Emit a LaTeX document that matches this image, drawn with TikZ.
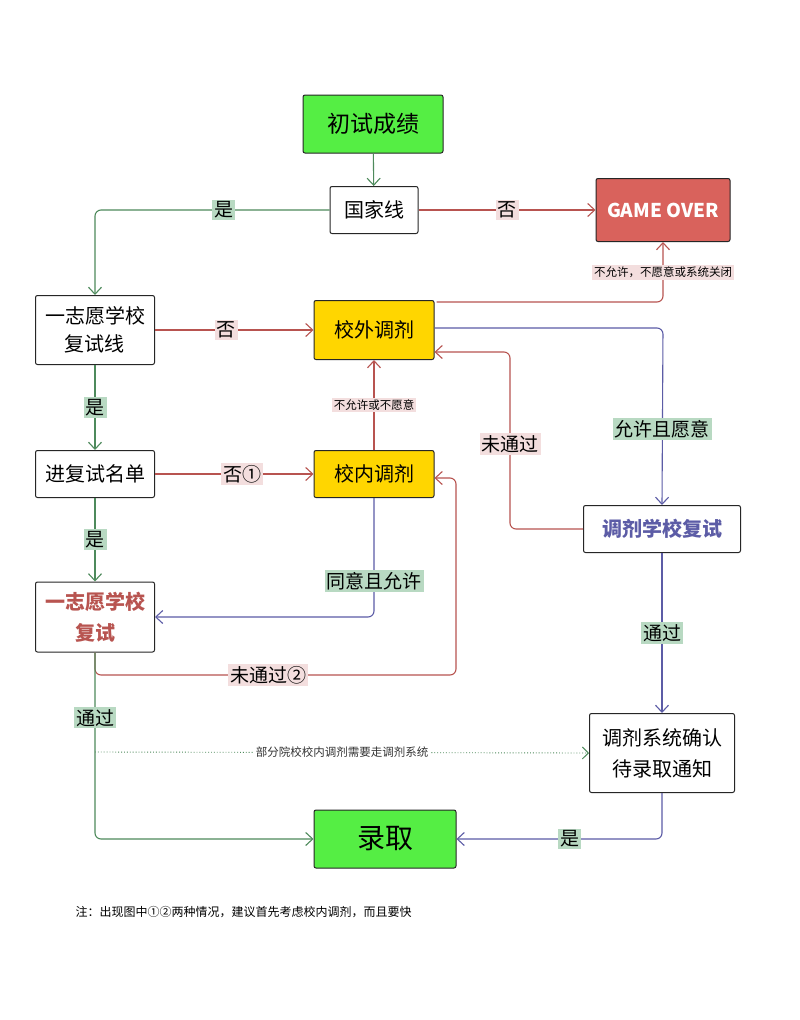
\documentclass[tikz,border=0pt]{standalone}
\usepackage{fontspec}
\setmainfont{Noto Sans CJK SC}
\usetikzlibrary{arrows.meta,positioning}
\definecolor{gline}{HTML}{4E8A5C}
\definecolor{rline}{HTML}{B85450}
\definecolor{bline}{HTML}{5C5CA6}
\definecolor{glab}{HTML}{B8D9C2}
\definecolor{rlab}{HTML}{F3DEDE}
\definecolor{bright}{HTML}{55EE44}
\definecolor{gameover}{HTML}{D9625C}
\definecolor{yel}{HTML}{FFD600}
\begin{document}
\begin{tikzpicture}[x=1pt,y=-1pt,
  box/.style={draw=black!85,line width=1pt,rounded corners=2pt,align=center,font=\fontsize{20}{28}\selectfont,inner sep=0pt},
  ln/.style={line width=1.1pt,rounded corners=6pt,-{Straight Barb[length=7pt,width=13pt]}},
  g/.style={ln,gline}, r/.style={ln,rline}, b/.style={ln,bline},
  lab/.style={sharp corners,text=black,font=\fontsize{19}{22}\selectfont,inner sep=2pt},
  gl/.style={lab,fill=glab},
  rl/.style={lab,fill=rlab},
  sl/.style={sharp corners,fill=rlab,text=black,font=\fontsize{11.5}{13}\selectfont,inner sep=2pt}]
\useasboundingbox (0,0) rectangle (800,1020);
\fill[white] (0,0) rectangle (800,1020);
\node[box,fill=bright,minimum width=140pt,minimum height=58pt,font=\fontsize{23}{27}\selectfont] (start) at (373,124) {初试成绩};
\node[box,minimum width=88pt,minimum height=47pt] (gjx) at (374,210) {国家线};
\node[box,fill=gameover,text=white,minimum width=134pt,minimum height=63pt,font=\fontsize{19}{24}\selectfont\bfseries] (go) at (663,210) {GAME OVER};
\node[box,minimum width=119pt,minimum height=69pt] (fsx) at (95,330) {一志愿学校\\复试线};
\node[box,fill=yel,minimum width=120pt,minimum height=59pt] (xw) at (374,330) {校外调剂};
\node[box,minimum width=119pt,minimum height=47pt] (md) at (95,474) {进复试名单};
\node[box,fill=yel,minimum width=120pt,minimum height=47pt] (xn) at (374,474) {校内调剂};
\node[box,text=bline,minimum width=157pt,minimum height=47pt,font=\fontsize{20}{28}\selectfont\bfseries] (tjfs) at (662,529) {调剂学校复试};
\node[box,text=rline,minimum width=119pt,minimum height=70pt,font=\fontsize{20}{31}\selectfont\bfseries] (yzy) at (95,617) {一志愿学校\\复试};
\node[box,minimum width=145pt,minimum height=79pt,font=\fontsize{20}{31}\selectfont] (qr) at (662,753) {调剂系统确认\\待录取通知};
\node[box,fill=bright,minimum width=142pt,minimum height=58pt,font=\fontsize{28}{30}\selectfont] (lq) at (385,839) {录取};
\node[anchor=west,font=\fontsize{12}{14}\selectfont] (note) at (72,912) {注：出现图中①②两种情况，建议首先考虑校内调剂，而且要快};

\coordinate (c1) at (95,210);
\coordinate (c2) at (663,302);
\coordinate (c3) at (663,328);
\coordinate (c4) at (510,529);
\coordinate (c5) at (510,352);
\coordinate (c6) at (374,617);
\coordinate (c7) at (95,675);
\coordinate (c8) at (456,675);
\coordinate (c9) at (456,478);
\coordinate (c10) at (95,839);
\coordinate (c11) at (95,752);
\coordinate (c12) at (662,839);

\draw[g] (start) -- (gjx);
\draw[r] (gjx) -- node[rl]{否} (go);
\draw[g] (gjx.west) -- node[gl,pos=0.45]{是} (c1) -- (fsx.north);
\draw[r] (fsx) -- node[rl,pos=0.45]{否} (xw);
\draw[g] (fsx) -- node[gl]{是} (md);
\draw[r] (md) -- node[rl,pos=0.55]{否①} (xn);
\draw[g] (md) -- node[gl]{是} (yzy);
\draw[r] (xn) -- node[sl]{不允许或不愿意} (xw);
\draw[r] (xw.north east |- c2) ++(2,0) -- (c2) -- node[sl,pos=0.5]{不允许，不愿意或系统关闭} (go.south);
\draw[b] (xw.east |- c3) -- (c3) -- node[gl,pos=0.57]{允许且愿意} (tjfs.north);
\draw[r] (tjfs.west) -- (c4) -- node[rl,pos=0.48]{未通过} (c5) -- (xw.east |- c5);
\draw[b] (xn.south) -- node[gl,pos=0.7]{同意且允许} (c6) -- (yzy.east);
\draw[r] (yzy.south) -- (c7) -- node[rl,pos=0.48]{未通过②} (c8) -- (c9) -- (xn.east |- c9);
\draw[g] (yzy.south) -- node[gl,pos=0.35]{通过} (c10) -- (lq.west);
\draw[gline,line width=0.9pt,dotted,-{Straight Barb[length=6pt,width=12pt]}] (c11) -- node[fill=white,text=black!80,font=\fontsize{11.5}{13}\selectfont,inner sep=3pt]{部分院校校内调剂需要走调剂系统} (qr.west);
\draw[b] (tjfs) -- node[gl]{通过} (qr);
\draw[b] (qr.south) -- (c12) -- node[gl,pos=0.45]{是} (lq.east);
\end{tikzpicture}
\end{document}
